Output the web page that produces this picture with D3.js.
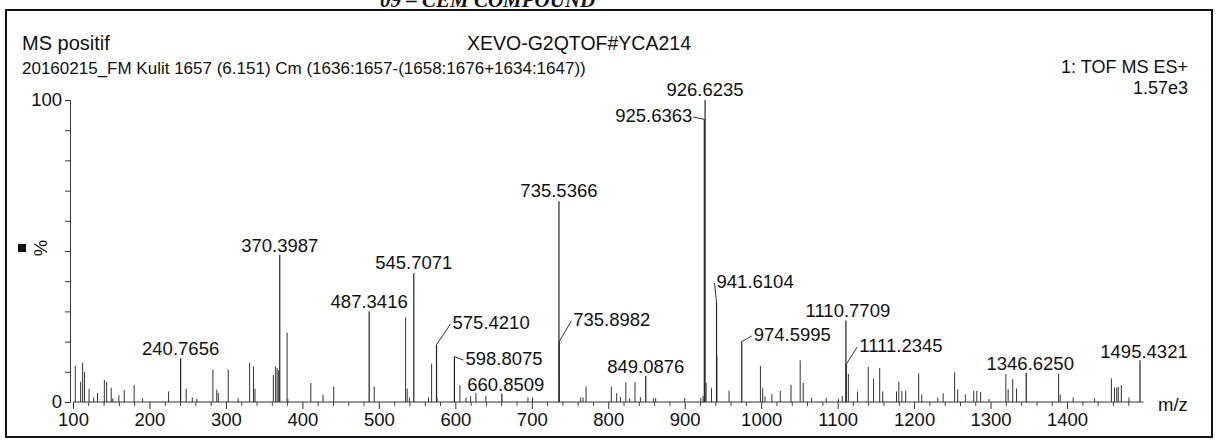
<!DOCTYPE html>
<html><head><meta charset="utf-8">
<script src="https://cdn.jsdelivr.net/npm/d3@7"></script>
<style>body{margin:0;background:#fff}svg{display:block}text{font-family:"Liberation Sans",Arial,sans-serif;fill:#111}</style>
</head><body><svg id="chart" width="1216" height="440"></svg>
<script>
// labelled peaks: m/z, relative intensity (%)
var labelMz = [926.6235, 925.6363, 735.5366, 370.3987, 545.7071, 487.3416, 941.6104, 1110.7709, 974.5995, 575.4210, 735.8982, 1111.2345, 240.7656, 598.8075, 1495.4321, 1346.6250, 849.0876, 660.8509];
var labelPct = [100, 93.6, 66.5, 48.7, 42.7, 30, 33, 27, 20, 19, 20, 12.5, 14.5, 15, 13.8, 9.7, 8.7, 2.8];
// label placement: [dx from peak, baseline y, anchor, leader]
var labelPlace = [
  [0, 96, "middle", 0], [-12, 122, "end", 1], [0, 197, "middle", 0], [0, 252, "middle", 0],
  [0, 269, "middle", 0], [0, 308, "middle", 0], [0, 288, "start", 1], [2, 317, "middle", 0],
  [12, 341, "start", 1], [16, 329, "start", 1], [14, 326, "start", 1], [13, 352, "start", 1],
  [0, 355, "middle", 0], [11, 365, "start", 1], [4, 358, "middle", 0], [4, 370, "middle", 0],
  [0, 373, "middle", 0], [4, 391, "middle", 0]];
// other peaks
var peakMz = [103,110,112.6,115,121,127,132,141,144,150,152,160,167,180,191,225,248,256,262,283,288,290,303,316,331,336,338,362,365,367,369,380,381,411,427,441,494,535,537,540,565,569,576,606,614,620,627,640,695,701,764,767,771,804,811,816,823,828,835,842,859,862,900,921,924,928,935,942,958,999,1002,1005,1014,1025,1039,1051,1055,1066,1085,1101,1106,1114,1126,1140,1147,1155,1159,1177,1180,1184,1189,1206,1210,1231,1238,1253,1257,1267,1278,1282,1287,1298,1320,1323,1329,1334,1389,1391,1408,1436,1458,1462,1465,1467,1471,1481];
var peakPct = [12,6.7,13,10,4.4,1.5,3,7.3,6.7,4.7,1.2,2.2,4,5.6,1.2,3.5,4.4,1.5,1,10.8,4.1,3,10.8,1.2,13,11.8,4.4,9,11.8,11.2,10.5,23,1,6.3,2.4,5.1,5.1,28,4.4,1.5,1.5,12.7,1.5,5.6,1.5,2,3,2,1.5,1.5,1.5,1.5,5.1,5.1,2.9,1.6,6.5,1.3,6.6,1.6,1.3,1.3,1.3,1.3,2,6.3,4.6,15.4,3.7,11.9,4.6,1.8,2.6,3.7,5.7,13.8,6.3,1.3,1.3,1,2,9.3,3.5,11.6,7.7,11.2,3.5,3.5,6.7,3.7,3.7,9.5,2.5,1.5,2.9,9.8,4.2,2.5,3.7,3.7,3.3,1,9.3,4.2,7.6,4.5,9.4,2.5,1.5,1.2,7.8,4.8,4.8,5,5.6,1.5];
var xMajor = d3.range(100, 1401, 100);

var svg = d3.select("#chart");
var x = d3.scaleLinear().domain([100, 1500]).range([73, 1143.5]);
var y = d3.scaleLinear().domain([0, 100]).range([402, 100]);
var fs = 18.5;

svg.append("rect").attr("x", 6).attr("y", 10).attr("width", 1206).attr("height", 427)
  .attr("fill", "none").attr("stroke", "#111").attr("stroke-width", 2);
svg.append("text").attr("x", 380).attr("y", 7)
  .style("font-family", "Liberation Serif").attr("font-weight", "bold").attr("font-style", "italic")
  .attr("font-size", 21).text("09 – CEM COMPOUND");

svg.append("text").attr("x", 22).attr("y", 50).attr("font-size", 20).text("MS positif");
svg.append("text").attr("x", 579).attr("y", 50).attr("font-size", 19.5).attr("text-anchor", "middle").text("XEVO-G2QTOF#YCA214");
svg.append("text").attr("x", 22).attr("y", 74).attr("font-size", 17).text("20160215_FM Kulit 1657 (6.151) Cm (1636:1657-(1658:1676+1634:1647))");
svg.append("text").attr("x", 1188).attr("y", 73).attr("font-size", 18).attr("text-anchor", "end").text("1: TOF MS ES+");
svg.append("text").attr("x", 1188).attr("y", 94).attr("font-size", 18).attr("text-anchor", "end").text("1.57e3");

// y axis
var yAx = svg.append("g").attr("transform", "translate(70,0)")
  .call(d3.axisLeft(y).tickValues(d3.range(0, 101, 10)).tickSize(5).tickFormat(function(d) { return (d == 0 || d == 100) ? d : ""; }));
yAx.select(".domain").attr("stroke", "#333");
yAx.selectAll("text").attr("font-size", fs).attr("fill", "#111").style("font-family", "Liberation Sans");
yAx.selectAll(".tick line").attr("stroke", "#333");
svg.append("rect").attr("x", 18).attr("y", 244).attr("width", 8).attr("height", 8).attr("fill", "#111");
svg.append("text").attr("transform", "translate(47,248) rotate(-90)").attr("text-anchor", "middle").attr("font-size", fs).text("%");

// x axis
var xMinor = d3.range(100, 1500, 20).filter(function(d) { return d % 100 != 0; });
var xg = svg.append("g").attr("transform", "translate(0,402)");
xg.call(d3.axisBottom(x).tickValues(xMinor).tickSize(4).tickFormat(""));
xg.selectAll(".tick line").attr("stroke", "#444");
var xg2 = svg.append("g").attr("transform", "translate(0,402)")
  .call(d3.axisBottom(x).tickValues(xMajor).tickSize(7).tickPadding(4).tickFormat(d3.format("d")));
xg2.select(".domain").remove();
xg2.selectAll(".tick line").attr("stroke", "#333");
xg2.selectAll("text").attr("font-size", fs).attr("fill", "#111").style("font-family", "Liberation Sans");
xg.select(".domain").attr("stroke", "#333").attr("d", "M" + x(100) + ",0H" + x(1500));
svg.append("text").attr("x", 1158).attr("y", 411).attr("font-size", fs).text("m/z");

// peaks
svg.append("g").selectAll("line").data(peakMz).join("line")
  .attr("x1", function(d) { return x(d); }).attr("x2", function(d) { return x(d); })
  .attr("y1", y(0)).attr("y2", function(d, i) { return y(peakPct[i]); })
  .attr("stroke", "#333").attr("stroke-width", 1);
svg.append("g").selectAll("line").data(labelMz).join("line")
  .attr("x1", function(d) { return x(d); }).attr("x2", function(d) { return x(d); })
  .attr("y1", y(0)).attr("y2", function(d, i) { return y(labelPct[i]); })
  .attr("stroke", "#222").attr("stroke-width", 1.2);

// labels
var lab = svg.append("g");
labelMz.forEach(function(mz, i) {
  var p = labelPlace[i], px = x(mz) + p[0];
  lab.append("text").attr("x", px).attr("y", p[1]).attr("text-anchor", p[2]).attr("font-size", fs)
    .text(d3.format(".4f")(mz));
  if (p[3]) {
    var lx = p[2] == "end" ? px + 1 : px - 2;
    lab.append("path").attr("fill", "none").attr("stroke", "#333").attr("stroke-width", 1)
      .attr("d", "M" + lx + "," + (p[1] - 5) + "L" + x(mz) + "," + y(labelPct[i]));
  }
});
</script></body></html>
